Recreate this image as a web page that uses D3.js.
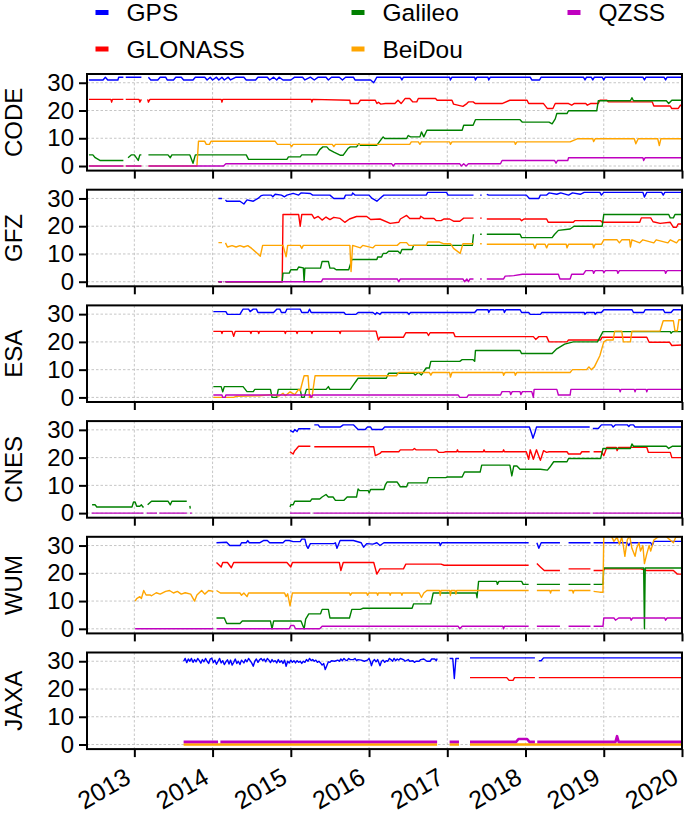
<!DOCTYPE html>
<html>
<head>
<meta charset="utf-8">
<script src="https://cdn.jsdelivr.net/npm/d3@7"></script>
<style>
  body { margin: 0; background: #fff; }
  text { font-family: "Liberation Sans", Arial, sans-serif; }
</style>
</head>
<body>
<div id="chart"></div>
<script>
// analysis centres (one panel each) and GNSS systems
const centers = ["CODE", "GFZ", "ESA", "CNES", "WUM", "JAXA"];
const systems = ["GPS", "GLONASS", "Galileo", "BeiDou", "QZSS"];
const sysColors = ["#0000ff", "#ff0000", "#008000", "#ffa500", "#bf00bf"];
const yearTicks = [2013, 2014, 2015, 2016, 2017, 2018, 2019, 2020];
const yTicks = [0, 10, 20, 30];

// number of satellites, [decimal year, count]; null = no data
const codeGps = [[2012.42,31],[2012.60,31],[2012.63,32],[2012.66,31],[2012.79,31],[2012.80,32],[2012.86,32],[2012.865,null],[2012.89,32],[2013.09,32],[2013.095,null],[2013.18,32],[2013.21,31],[2013.30,31],[2013.33,32],[2013.40,32],[2013.42,31],[2013.50,31],[2013.53,32],[2013.60,32],[2013.63,31],[2013.75,31],[2013.78,32],[2013.90,32],[2013.93,31],[2013.97,32],[2014.00,31],[2014.05,32],[2014.08,31],[2014.12,32],[2014.15,31],[2014.20,32],[2014.23,31],[2014.30,32],[2014.40,32],[2014.43,31],[2014.55,31],[2014.58,32],[2014.70,32],[2014.73,31],[2014.78,32],[2014.82,31],[2014.85,32],[2014.90,31],[2015.00,31],[2015.05,32],[2015.15,32],[2015.18,31],[2015.25,32],[2015.30,31],[2015.35,32],[2015.45,32],[2015.48,31],[2015.52,32],[2015.62,32],[2015.66,31],[2015.70,32],[2015.80,32],[2015.82,31],[2016.02,31],[2016.06,30],[2016.10,32],[2016.40,32],[2016.42,31],[2016.44,32],[2017.03,32],[2017.04,31],[2017.06,32],[2017.35,32],[2017.36,31],[2017.38,32],[2017.52,32],[2017.53,31],[2017.55,32],[2018.06,32],[2018.08,31],[2018.18,31],[2018.20,32],[2018.74,32],[2018.76,31],[2018.78,32],[2018.84,32],[2018.86,31],[2018.88,32],[2018.98,32],[2019.0,31],[2019.02,32],[2019.50,32],[2019.52,31],[2019.54,32],[2019.77,32],[2019.79,31],[2019.81,32],[2020.0,32]];
const codeGlo = [[2012.42,24],[2012.70,24],[2012.71,23],[2012.72,24],[2012.86,24],[2012.865,null],[2012.89,24],[2013.06,24],[2013.07,23],[2013.09,24],[2013.095,null],[2013.17,24],[2013.18,23],[2013.2,24],[2014.11,24],[2014.12,23],[2014.13,24],[2015.26,24],[2015.27,23],[2015.28,24],[2015.755,23.7],[2015.76,22.5],[2015.86,22.5],[2015.89,23.7],[2016.08,23.7],[2016.10,22.5],[2016.12,23],[2016.15,22.3],[2016.21,22.5],[2016.33,22.5],[2016.37,23.7],[2016.41,22.5],[2016.46,24.3],[2016.52,24.3],[2016.56,23.1],[2016.61,23.1],[2016.63,24.3],[2016.85,24.3],[2016.87,23.7],[2017.06,23.7],[2017.08,22.3],[2017.2,21.5],[2017.25,22.5],[2017.27,23.1],[2017.33,23.1],[2017.36,22.5],[2017.7,22.5],[2017.8,23.7],[2018.02,23.7],[2018.04,22.5],[2018.23,22.5],[2018.28,20.7],[2018.35,20.7],[2018.38,22.5],[2018.55,22.5],[2018.59,21.9],[2018.62,22.5],[2018.77,22.5],[2018.79,21.9],[2018.83,22.5],[2018.93,22.5],[2018.95,23.7],[2019.04,23.7],[2019.06,23.1],[2019.62,23.1],[2019.64,21.6],[2019.85,21.6],[2019.87,20.7],[2019.95,20.7],[2019.98,21.9],[2020.0,21.9]];
const codeGal = [[2012.42,4],[2012.47,4],[2012.50,3],[2012.56,2],[2012.86,2],[2012.865,null],[2012.92,3],[2012.96,4],[2013.00,4],[2013.05,2],[2013.07,4],[2013.09,4],[2013.095,null],[2013.18,4],[2013.43,4],[2013.46,3],[2013.48,4],[2013.71,4],[2013.75,1],[2013.78,4],[2014.43,4],[2014.46,2.4],[2014.95,2.4],[2014.97,3.3],[2015.12,3.3],[2015.14,4],[2015.33,4],[2015.37,5.9],[2015.41,6.9],[2015.46,6.9],[2015.49,5.9],[2015.55,5],[2015.63,3.9],[2015.67,3.9],[2015.73,6.3],[2015.76,6.9],[2015.84,6.9],[2015.87,8],[2015.89,7.5],[2016.10,7.5],[2016.18,10.5],[2016.2,9.9],[2016.48,9.9],[2016.50,11],[2016.53,10.5],[2016.65,10.5],[2016.67,12.3],[2016.7,10.5],[2016.74,12.9],[2017.19,12.9],[2017.21,14.7],[2017.33,14.7],[2017.36,16.7],[2017.93,16.7],[2017.96,15.8],[2018.30,15.8],[2018.34,15.2],[2018.38,17],[2018.40,18.9],[2018.53,18.9],[2018.55,19.9],[2018.91,19.9],[2018.93,23.5],[2019.34,23.5],[2019.36,24.6],[2019.38,23.5],[2019.80,23.5],[2019.83,22.5],[2019.87,23.7],[2020.0,23.7]];
const codeBds = [[2012.42,0],[2012.86,0],[2012.865,null],[2012.89,0],[2013.09,0],[2013.095,null],[2013.18,0],[2013.80,0],[2013.82,8.9],[2013.90,8.9],[2013.92,7.8],[2013.96,7.8],[2013.98,8.9],[2014.80,8.9],[2014.83,7.8],[2014.99,7.8],[2015.01,7],[2015.03,7.8],[2015.53,7.8],[2015.55,7],[2015.57,7.8],[2016.52,7.8],[2016.54,8.7],[2016.63,8.7],[2016.65,7.8],[2016.67,8.7],[2017.03,8.7],[2017.04,7.8],[2017.06,8.7],[2017.86,8.7],[2017.87,7.8],[2017.89,8.7],[2018.57,8.7],[2018.66,9.8],[2018.86,9.8],[2018.87,8.8],[2018.89,9.8],[2019.39,9.8],[2019.41,8],[2019.44,9.8],[2019.69,9.8],[2019.71,7.4],[2019.73,9.8],[2020.0,9.8]];
const codeQzs = [[2012.42,0],[2012.86,0],[2012.865,null],[2012.89,0],[2013.09,0],[2013.095,null],[2013.18,0],[2014.14,0],[2014.17,0.8],[2016.29,0.8],[2016.31,0],[2016.33,0.8],[2017.16,0.8],[2017.18,0],[2017.21,0.8],[2017.24,0],[2017.27,0.8],[2017.68,0.8],[2017.70,2],[2018.37,2],[2018.39,1],[2018.41,2],[2018.54,2],[2018.55,3],[2019.50,3],[2019.51,2],[2019.53,3],[2020.0,3]];

const gfzGps = [[2014.075,30],[2014.12,30],[2014.125,null],[2014.165,29.5],[2014.18,29],[2014.35,29],[2014.40,28],[2014.44,29.5],[2014.52,29],[2014.58,30],[2014.62,31],[2014.65,31.2],[2014.75,31.2],[2014.77,30.6],[2014.80,31.5],[2014.88,31.2],[2014.92,30.6],[2014.95,31.2],[2015.03,31.8],[2015.10,31.2],[2015.13,32],[2015.25,31.8],[2015.28,31.2],[2015.50,31.2],[2015.55,30],[2015.68,30],[2015.70,31.2],[2015.78,31.2],[2015.79,32],[2015.82,31.2],[2016.00,31.2],[2016.04,30],[2016.10,29],[2016.16,30.5],[2016.19,31.2],[2016.73,31.2],[2016.75,32.2],[2016.99,32.2],[2017.01,31.2],[2017.335,31.2],[2017.34,null],[2017.42,31.2],[2017.44,31.2],[2017.45,null],[2017.505,31.5],[2017.53,31.2],[2018.01,31.2],[2018.05,30],[2018.17,30],[2018.19,31.2],[2018.27,31.2],[2018.30,32],[2018.40,31.5],[2018.45,32],[2018.55,31.2],[2018.6,32],[2018.70,31.5],[2018.75,32.2],[2018.95,32.2],[2018.97,31.2],[2019.0,32.2],[2019.50,32.2],[2019.52,30.5],[2019.55,32.2],[2019.74,32.2],[2019.76,31.2],[2019.78,32.2],[2020.0,32.2]];
const gfzGlo = [[2014.075,0],[2014.12,0],[2014.125,null],[2014.165,0],[2014.89,0],[2014.90,24.2],[2015.10,24.2],[2015.12,20],[2015.14,24.2],[2015.27,24.2],[2015.30,22.8],[2015.35,23.5],[2015.40,22.2],[2015.45,23.3],[2015.50,22.4],[2015.55,23.2],[2015.63,22.8],[2015.69,21.4],[2015.75,22.6],[2015.84,23.5],[2015.97,23.5],[2016.02,22.4],[2016.14,22.6],[2016.27,21],[2016.38,21.4],[2016.40,22.6],[2016.48,23.9],[2016.52,22.8],[2016.65,22.8],[2016.66,23.6],[2016.70,22.8],[2016.83,22.8],[2016.86,22],[2016.92,22],[2016.96,22.6],[2017.03,22.6],[2017.08,21.8],[2017.16,21.8],[2017.21,22.9],[2017.335,22.9],[2017.34,null],[2017.42,22.9],[2017.44,22.9],[2017.45,null],[2017.505,22.6],[2017.93,22.6],[2017.95,22],[2017.98,22.6],[2018.27,22.6],[2018.29,21.4],[2018.61,21.4],[2018.63,22],[2018.96,22],[2018.98,21.4],[2019.46,21.4],[2019.48,23],[2019.60,23],[2019.63,21.6],[2019.72,21],[2019.85,21.4],[2019.89,19.6],[2019.93,19.6],[2019.95,20.8],[2020.0,20.8]];
const gfzGal = [[2014.075,0],[2014.12,0],[2014.125,null],[2014.165,0],[2014.89,0],[2014.90,3.1],[2014.98,3.1],[2015.0,4.3],[2015.08,4.3],[2015.10,5.3],[2015.16,5],[2015.17,0],[2015.18,4.9],[2015.38,4.9],[2015.40,7.3],[2015.48,7.3],[2015.50,4.9],[2015.55,4.9],[2015.58,4.3],[2015.74,4.3],[2015.78,8],[2016.10,8],[2016.11,8.9],[2016.16,8.9],[2016.18,10.2],[2016.22,10.2],[2016.25,11],[2016.37,11],[2016.40,10.2],[2016.42,11.6],[2016.55,11.6],[2016.57,13.1],[2017.32,13.1],[2017.335,17.1],[2017.34,null],[2017.42,17.1],[2017.44,17.1],[2017.45,null],[2017.505,17.1],[2017.93,17.1],[2017.95,15.9],[2018.34,15.9],[2018.37,17],[2018.42,18.5],[2018.57,19],[2018.62,20],[2018.98,20],[2019.0,24.2],[2019.83,24.2],[2019.85,23],[2019.89,23],[2019.91,24.2],[2020.0,24.2]];
const gfzBds = [[2014.075,14.1],[2014.12,14.1],[2014.125,null],[2014.165,14],[2014.19,12.5],[2014.25,13],[2014.30,12.5],[2014.35,13],[2014.40,12.5],[2014.45,13],[2014.50,12],[2014.58,10],[2014.61,9.2],[2014.64,13.1],[2014.90,13.1],[2014.94,9],[2014.96,13.1],[2015.12,13.1],[2015.14,12],[2015.16,13.1],[2015.755,13.1],[2015.77,3.7],[2015.79,13.1],[2015.89,12.2],[2015.92,13.1],[2016.05,12.2],[2016.08,13.1],[2016.36,13.1],[2016.40,14.1],[2016.48,14.1],[2016.51,13.1],[2016.73,13.1],[2016.75,14.3],[2016.90,14.3],[2016.95,13.7],[2017.04,13.7],[2017.08,12],[2017.165,10.2],[2017.20,13.7],[2017.335,13.7],[2017.34,null],[2017.42,13.7],[2017.44,13.7],[2017.45,null],[2017.505,13.5],[2018.10,13.5],[2018.12,12],[2018.14,13.5],[2018.25,13.5],[2018.27,12.2],[2018.29,13.5],[2018.52,13.5],[2018.53,12.2],[2018.55,13.5],[2018.86,13.5],[2018.87,12.2],[2018.89,13.5],[2018.97,13.5],[2019.0,15.1],[2019.17,15.1],[2019.20,14],[2019.23,15.1],[2019.33,15.1],[2019.34,12.5],[2019.36,15.1],[2019.46,14],[2019.50,15.1],[2019.64,14],[2019.67,15.1],[2019.82,14],[2019.85,15.1],[2019.93,14],[2019.96,15.1],[2020.0,15.1]];
const gfzQzs = [[2014.075,0],[2014.12,0],[2014.125,null],[2014.14,0],[2014.15,0],[2014.155,null],[2014.165,0],[2015.39,0],[2015.41,1],[2016.36,1],[2016.38,0],[2016.40,1],[2017.20,1],[2017.22,0],[2017.25,1],[2017.27,0],[2017.29,1],[2017.335,1],[2017.34,null],[2017.42,1],[2017.44,1],[2017.45,null],[2017.505,1],[2017.72,1],[2017.74,2],[2017.85,2.2],[2017.96,2.7],[2018.42,2.7],[2018.44,1],[2018.57,1],[2018.59,2.7],[2018.74,2.7],[2018.77,4],[2018.86,4],[2018.87,3],[2018.89,4],[2018.99,4],[2019.0,3.2],[2019.02,4],[2019.17,4],[2019.18,3],[2019.20,4],[2019.78,4],[2019.79,3],[2019.81,4],[2020.0,4]];

const esaGps = [[2014.01,30.9],[2014.17,30.9],[2014.19,29.9],[2014.35,29.9],[2014.37,30.9],[2014.39,31.8],[2014.46,31.8],[2014.48,30.9],[2014.52,31.8],[2014.56,31.8],[2014.58,30.6],[2014.78,30.6],[2014.82,31.8],[2014.86,31.8],[2014.88,30.6],[2014.93,30.6],[2014.95,31.8],[2015.12,31.8],[2015.14,30.6],[2015.22,30.6],[2015.24,31.8],[2015.26,30.6],[2015.68,30.6],[2015.70,29.9],[2015.83,29.9],[2015.86,30.6],[2016.05,30.6],[2016.08,29.9],[2016.10,30.6],[2016.14,29.9],[2016.16,30.6],[2016.49,30.6],[2016.51,29.9],[2016.53,30.6],[2017.35,30.6],[2017.38,31.6],[2017.52,31.6],[2017.53,30.6],[2017.55,31.6],[2017.72,31.6],[2017.73,30.6],[2017.75,31.6],[2017.93,31.6],[2017.95,30.6],[2018.04,30.6],[2018.06,29.9],[2018.19,29.9],[2018.21,30.6],[2018.75,30.6],[2018.76,29.9],[2018.78,30.6],[2018.88,30.6],[2018.89,29.9],[2018.91,30.6],[2018.97,30.6],[2019.0,31.6],[2019.36,31.6],[2019.38,30.6],[2019.51,30.6],[2019.53,31.6],[2019.76,31.6],[2019.78,30.6],[2019.86,30.6],[2019.89,31.6],[2020.0,31.6]];
const esaGlo = [[2014.01,23.8],[2014.11,23.8],[2014.12,23],[2014.13,23.8],[2014.25,23.8],[2014.27,22],[2014.29,23.8],[2014.48,23.8],[2014.49,23],[2014.50,23.8],[2014.58,23.8],[2014.59,23],[2014.60,23.8],[2014.92,23.8],[2014.93,23],[2014.94,23.8],[2015.07,23.8],[2015.08,23],[2015.09,23.8],[2015.26,23.8],[2015.27,23],[2015.28,23.8],[2015.62,23.8],[2015.63,23],[2015.64,23.9],[2016.09,23.9],[2016.12,20.7],[2016.14,21.7],[2016.44,21.7],[2016.47,23.3],[2016.74,23.3],[2016.76,22.3],[2016.78,23.3],[2017.08,23.3],[2017.10,21.9],[2018.10,21.9],[2018.13,20.9],[2018.17,21.9],[2018.27,21.9],[2018.30,20],[2018.53,20],[2018.55,20.7],[2018.96,20.7],[2018.98,21.7],[2019.55,21.7],[2019.58,19.9],[2019.84,19.9],[2019.87,18.7],[2020.0,18.9]];
const esaGal = [[2014.01,3.9],[2014.11,3.9],[2014.13,2],[2014.15,3.9],[2014.39,3.9],[2014.44,2.1],[2014.52,2.1],[2014.54,2.9],[2014.74,2.9],[2014.76,0],[2014.82,0],[2014.84,2.9],[2015.12,2.9],[2015.14,0],[2015.17,0],[2015.20,2.9],[2015.45,2.9],[2015.48,3.9],[2015.50,2.9],[2015.76,2.9],[2015.80,4.5],[2015.86,6.9],[2016.22,6.9],[2016.25,8.7],[2016.57,8.7],[2016.59,8.1],[2016.63,9],[2016.67,8.1],[2016.73,10.6],[2016.77,10.6],[2016.79,13],[2017.16,13],[2017.19,13.6],[2017.33,13.6],[2017.35,13],[2017.36,16.9],[2017.93,16.9],[2017.95,15.8],[2018.34,15.8],[2018.40,17.5],[2018.50,19.2],[2018.61,20],[2018.92,20],[2018.99,23.7],[2019.85,23.7],[2019.86,23.1],[2019.88,23.7],[2020.0,23.7]];
const esaBds = [[2014.01,0],[2014.27,0],[2014.30,0.4],[2014.60,0.6],[2014.75,1],[2014.85,0.5],[2014.90,1.5],[2014.93,0.6],[2014.99,2],[2015.05,1],[2015.10,2.9],[2015.12,2.4],[2015.17,7.8],[2015.22,7.8],[2015.24,0],[2015.27,0],[2015.31,7.8],[2016.35,7.8],[2016.38,9],[2016.77,9],[2016.79,8],[2016.81,9],[2017.03,9],[2017.04,7.3],[2017.06,9],[2017.71,9],[2017.72,8],[2017.74,9],[2017.86,9],[2017.87,8],[2017.89,9],[2018.57,9],[2018.60,10],[2018.78,10],[2018.81,11],[2018.84,10],[2018.88,11],[2018.95,15],[2019.0,20],[2019.04,20.7],[2019.12,20.7],[2019.14,23.9],[2019.23,23.9],[2019.25,20],[2019.34,20],[2019.36,23.9],[2019.72,23.9],[2019.76,27.6],[2019.89,27.6],[2019.91,24],[2019.94,24],[2019.96,28],[2020.0,28]];
const esaQzs = [[2014.01,0.85],[2014.12,0.85],[2014.13,0],[2014.16,0],[2014.17,0.85],[2015.25,0.85],[2015.26,0],[2015.28,0.85],[2017.14,0.85],[2017.16,0],[2017.25,0],[2017.27,0.85],[2017.68,0.85],[2017.70,2.1],[2017.80,2.1],[2017.81,1],[2017.83,2.1],[2017.93,2.1],[2017.94,1],[2017.96,2.1],[2018.08,2.1],[2018.10,0],[2018.11,2.9],[2018.40,2.9],[2018.42,0.85],[2018.57,0.85],[2018.58,2.9],[2019.20,2.9],[2019.21,2],[2019.22,2.9],[2019.39,2.9],[2019.40,2],[2019.41,2.9],[2019.54,2.9],[2019.55,2],[2019.56,2.9],[2020.0,2.9]];

const cnesGps = [[2014.99,29.8],[2015.03,29.2],[2015.05,30.1],[2015.08,29.4],[2015.10,30.4],[2015.25,30.4],[2015.26,null],[2015.30,31.8],[2015.35,31.8],[2015.37,31],[2015.63,31],[2015.67,31.8],[2015.80,31.8],[2015.86,30.1],[2015.95,30.1],[2015.98,31],[2016.02,31],[2016.04,30.1],[2016.17,30.1],[2016.20,31],[2018.05,31],[2018.08,28.5],[2018.095,27],[2018.12,29],[2018.14,31],[2018.82,31],[2018.825,null],[2018.86,30.5],[2018.93,30.5],[2018.97,31.8],[2019.10,31.8],[2019.12,31],[2019.15,31.8],[2019.30,31.8],[2019.32,31.2],[2019.34,31.8],[2019.38,31.8],[2019.40,31],[2020.0,31]];
const cnesGlo = [[2014.99,22.1],[2015.03,21.3],[2015.05,22.5],[2015.07,23.1],[2015.10,24.1],[2015.25,24.1],[2015.26,null],[2015.30,23.9],[2016.06,23.9],[2016.08,20.7],[2016.14,21.5],[2016.16,22.1],[2016.38,22.1],[2016.40,22.8],[2016.56,22.8],[2016.58,23.3],[2016.60,22.8],[2016.86,22.8],[2016.89,21.9],[2016.95,21.9],[2016.98,22.1],[2017.12,22.1],[2017.13,22.8],[2017.14,22.1],[2017.46,22.1],[2017.47,22.8],[2017.48,22.1],[2017.71,22.1],[2017.72,22.8],[2017.73,22.1],[2018.01,22.1],[2018.04,19.4],[2018.06,22.8],[2018.10,19.4],[2018.14,22.8],[2018.19,19],[2018.23,22.5],[2018.27,21.9],[2018.30,22.1],[2018.53,22.1],[2018.55,21.3],[2018.70,21.3],[2018.72,22.1],[2018.82,22.1],[2018.825,null],[2018.87,22.1],[2018.97,22.1],[2019.0,20.7],[2019.04,23.7],[2019.16,23.7],[2019.17,22.5],[2019.19,23.7],[2019.55,23.7],[2019.57,21.9],[2019.85,21.9],[2019.87,20],[2020.0,20]];
const cnesGal = [[2012.46,3],[2012.50,3],[2012.52,2.2],[2012.97,2.2],[2012.99,4],[2013.01,4],[2013.03,2.5],[2013.07,2.5],[2013.09,3],[2013.11,2.2],[2013.12,2.2],[2013.125,null],[2013.17,3],[2013.22,4.3],[2013.43,4.3],[2013.46,3],[2013.48,4.3],[2013.67,4.3],[2013.675,null],[2013.71,2.6],[2013.715,1.6],[2013.72,null],[2014.99,2.2],[2015.0,3],[2015.03,3],[2015.05,4.3],[2015.25,4.3],[2015.27,5.1],[2015.37,5.1],[2015.40,5.8],[2015.45,6.7],[2015.48,5.8],[2015.54,5.8],[2015.57,4.6],[2015.68,4.6],[2015.72,5.8],[2015.84,5.8],[2015.86,8.7],[2015.88,8.1],[2015.99,8.1],[2016.0,7.3],[2016.02,8.5],[2016.19,8.5],[2016.21,10.3],[2016.23,11.2],[2016.36,11.2],[2016.40,9.5],[2016.48,9.5],[2016.50,10.9],[2016.74,10.9],[2016.76,12.8],[2016.98,12.8],[2017.0,13],[2017.19,13],[2017.22,14.8],[2017.42,14.8],[2017.44,17.3],[2017.80,17.3],[2017.825,13.4],[2017.85,17],[2017.89,17],[2017.93,15.8],[2018.19,15.8],[2018.28,15.5],[2018.31,16.5],[2018.36,18.5],[2018.53,18.5],[2018.55,19.7],[2018.96,19.7],[2018.99,23.3],[2019.34,23.3],[2019.36,24.9],[2019.38,24.1],[2019.80,24.1],[2019.83,23.3],[2019.88,24.1],[2020.0,24.1]];
const cnesBds = [];
const cnesQzs = [[2012.455,0],[2013.116,0],[2013.12,null],[2013.159,0],[2013.29,0],[2013.30,null],[2013.32,0],[2013.67,0],[2013.68,null],[2013.71,0],[2013.735,0],[2013.74,null],[2014.99,0],[2015.25,0],[2015.26,null],[2015.29,0],[2018.83,0],[2018.835,null],[2018.86,0],[2020.0,0]];

const wumGps = [[2014.05,31],[2014.18,31.2],[2014.22,30],[2014.35,30],[2014.37,31],[2014.43,31],[2014.45,31.8],[2014.47,31],[2014.60,31],[2014.65,31.8],[2014.70,31.8],[2014.73,31],[2014.90,31],[2014.93,31.8],[2014.98,31.8],[2015.03,31.4],[2015.12,31.4],[2015.14,32.3],[2015.18,32.3],[2015.20,30],[2015.22,29],[2015.25,30.7],[2015.55,30.7],[2015.57,31],[2015.59,29],[2015.63,31.8],[2015.80,31.8],[2015.90,31],[2015.93,29.4],[2015.97,30.7],[2016.05,30.5],[2016.10,31],[2016.14,30],[2016.19,31],[2016.90,31],[2016.91,30],[2016.93,31],[2018.04,31],[2018.05,null],[2018.145,31],[2018.17,29],[2018.20,31],[2018.44,31],[2018.45,null],[2018.55,31],[2018.83,31],[2018.835,null],[2018.87,31],[2019.30,31],[2019.32,30],[2019.34,31],[2019.60,31],[2019.62,30],[2019.64,31.5],[2020.0,31.5]];
const wumGlo = [[2014.05,23.9],[2014.11,22.3],[2014.13,23.9],[2014.19,23.9],[2014.24,22],[2014.27,23.9],[2014.95,23.9],[2015.0,22.3],[2015.02,23.9],[2015.62,23.9],[2015.64,21],[2015.67,23.9],[2016.06,23.9],[2016.10,19.7],[2016.14,21.6],[2016.44,21.6],[2016.47,23.3],[2016.92,23.3],[2016.96,22.9],[2018.04,22.9],[2018.05,null],[2018.145,23.5],[2018.19,22.3],[2018.24,21],[2018.44,21],[2018.45,null],[2018.55,21.6],[2018.83,21.6],[2018.835,null],[2018.87,21],[2018.99,21],[2019.01,21.6],[2019.47,21.6],[2019.55,21],[2019.89,21],[2019.94,19.7],[2020.0,19.7]];
const wumGal = [[2014.05,3.9],[2014.15,3.9],[2014.18,1.9],[2014.35,1.9],[2014.38,2.8],[2014.74,2.8],[2014.76,0],[2014.78,2.8],[2015.13,2.8],[2015.17,0],[2015.19,3.5],[2015.23,5.4],[2015.38,5.4],[2015.40,7],[2015.48,7],[2015.50,3.9],[2015.75,3.9],[2015.78,7],[2015.89,7],[2015.92,7.4],[2016.55,7.4],[2016.57,9],[2016.79,9],[2016.82,12.9],[2017.37,12.9],[2017.38,11.2],[2017.40,17.1],[2017.63,17.1],[2017.64,16],[2017.66,17.1],[2017.95,17.1],[2017.97,16],[2018.04,16],[2018.05,null],[2018.145,16],[2018.44,16],[2018.45,null],[2018.55,16],[2018.83,16],[2018.835,null],[2018.87,16],[2018.99,16],[2019.0,21.9],[2019.51,21.9],[2019.52,0],[2019.53,21.9],[2020.0,21.9]];
const wumBds = [[2013.01,10],[2013.03,10.9],[2013.07,11.6],[2013.09,10.9],[2013.12,13.8],[2013.15,12.2],[2013.20,12.2],[2013.22,11.9],[2013.28,13],[2013.33,12.5],[2013.40,13.5],[2013.45,13.8],[2013.50,12.9],[2013.55,13.5],[2013.60,12.5],[2013.65,13],[2013.72,12.5],[2013.75,11],[2013.77,10],[2013.80,12.2],[2013.86,13.8],[2013.90,12.5],[2013.95,13.8],[2014.01,13.5],[2014.02,null],[2014.05,13.8],[2014.10,12.9],[2014.35,12.9],[2014.37,12.1],[2014.40,12.9],[2014.44,11.6],[2014.46,12.9],[2014.92,12.9],[2014.94,11.6],[2014.96,12.6],[2014.99,8.3],[2015.02,12.9],[2015.75,12.9],[2015.76,12.1],[2015.78,12.9],[2015.97,12.9],[2015.98,12.1],[2016.0,12.9],[2016.10,12.9],[2016.11,12.1],[2016.12,12.9],[2016.26,12.9],[2016.27,12.1],[2016.28,12.9],[2016.41,12.9],[2016.42,12.1],[2016.43,12.9],[2016.64,12.9],[2016.67,11.3],[2016.70,12.9],[2016.74,13.8],[2016.90,13.8],[2016.91,12],[2016.92,13.8],[2017.03,13.8],[2017.04,12],[2017.05,13.8],[2017.10,13.8],[2017.11,12.5],[2017.12,13.8],[2018.04,13.8],[2018.05,null],[2018.145,13.8],[2018.31,13.8],[2018.32,12.9],[2018.33,13.8],[2018.44,13.8],[2018.45,null],[2018.55,13.8],[2018.60,13.8],[2018.61,12.9],[2018.62,13.8],[2018.83,13.8],[2018.835,null],[2018.87,13.5],[2018.95,13.2],[2018.99,13.2],[2019.0,33.6],[2019.10,33.2],[2019.13,31.5],[2019.17,33],[2019.20,30.5],[2019.23,33],[2019.25,30],[2019.27,26.1],[2019.30,32],[2019.33,33.6],[2019.36,29],[2019.40,26.1],[2019.42,29],[2019.45,31],[2019.47,28],[2019.50,30],[2019.52,23.5],[2019.55,27],[2019.58,30],[2019.60,28],[2019.64,32],[2019.70,33.2],[2019.80,33.2],[2019.89,31],[2019.92,33],[2020.0,33.2]];
const wumQzs = [[2013.01,0],[2014.01,0],[2014.02,null],[2014.05,0],[2014.98,0],[2015.0,1.2],[2015.04,1.2],[2015.06,0],[2015.37,0],[2015.40,0.9],[2017.14,0.9],[2017.16,0],[2017.19,0.9],[2017.71,0.9],[2017.72,0],[2017.73,0.9],[2018.04,0.9],[2018.05,null],[2018.145,0.9],[2018.44,0.9],[2018.45,null],[2018.55,0.9],[2018.83,0.9],[2018.835,null],[2018.87,0.9],[2018.99,0.9],[2019.0,3.9],[2019.13,3.9],[2019.15,3.1],[2019.19,3.9],[2019.34,3.9],[2019.35,3.1],[2019.37,3.9],[2019.78,3.9],[2019.79,3.1],[2019.81,3.9],[2020.0,3.9]];

const jaxaGps = [[2013.63,30],[2013.65,31],[2013.67,29.5],[2013.69,30.8],[2013.71,30],[2013.73,31],[2013.75,29.6],[2013.77,30.6],[2013.79,29.8],[2013.81,31],[2013.83,30.2],[2013.85,29.3],[2013.87,30.6],[2013.89,29.8],[2013.91,31],[2013.93,30],[2013.95,29.2],[2013.97,30.8],[2013.99,31.1],[2014.01,29.5],[2014.03,30.4],[2014.05,28.9],[2014.07,30],[2014.09,31],[2014.11,29.4],[2014.13,30.2],[2014.15,28.8],[2014.17,29.8],[2014.19,30.5],[2014.21,29],[2014.23,30.4],[2014.25,28.6],[2014.27,29.6],[2014.29,30.8],[2014.31,29.2],[2014.33,30],[2014.35,28.8],[2014.37,30.4],[2014.40,29.4],[2014.42,30.6],[2014.44,29.8],[2014.46,31],[2014.48,30.2],[2014.50,29.4],[2014.52,28.2],[2014.54,30],[2014.56,30.8],[2014.58,29.6],[2014.60,30.5],[2014.62,31],[2014.64,30.2],[2014.66,30.8],[2014.68,29.8],[2014.70,31],[2014.72,30.4],[2014.74,29.5],[2014.76,30.6],[2014.78,29.8],[2014.80,30.2],[2014.82,29.4],[2014.84,30.6],[2014.86,29.6],[2014.88,30.2],[2014.90,29.2],[2014.92,30.4],[2014.94,28.2],[2014.96,30],[2014.98,29.4],[2015.00,30.4],[2015.02,29.6],[2015.04,30.2],[2015.06,29.4],[2015.08,30.2],[2015.10,29.6],[2015.12,30],[2015.14,29.2],[2015.16,30],[2015.18,29.6],[2015.20,30.6],[2015.22,30],[2015.24,31],[2015.26,30.2],[2015.28,30.6],[2015.30,30],[2015.32,30.4],[2015.34,29.6],[2015.36,30],[2015.38,29.4],[2015.40,28.6],[2015.42,29.2],[2015.44,27],[2015.46,28.4],[2015.48,29.8],[2015.50,29.6],[2015.52,30.2],[2015.56,30],[2015.60,30.4],[2015.62,30],[2015.64,30.8],[2015.66,30.2],[2015.68,31],[2015.70,30.4],[2015.72,30.2],[2015.74,31],[2015.76,30.6],[2015.80,30.6],[2015.82,31],[2015.84,30.2],[2015.86,30.6],[2015.90,30.4],[2015.94,30],[2015.98,30.4],[2016.00,31],[2016.02,29.6],[2016.03,28.4],[2016.05,30],[2016.07,30.6],[2016.09,29.8],[2016.11,30.6],[2016.14,28.4],[2016.16,30],[2016.18,30.4],[2016.20,29.6],[2016.22,30.2],[2016.24,30],[2016.26,31],[2016.28,30.6],[2016.30,30],[2016.32,31],[2016.34,30.2],[2016.36,30.8],[2016.38,30.4],[2016.40,31],[2016.44,30.6],[2016.46,30],[2016.50,30.6],[2016.52,30],[2016.56,30.2],[2016.58,29.6],[2016.60,30],[2016.64,30],[2016.66,30.6],[2016.70,30.8],[2016.74,30],[2016.78,30],[2016.80,30.8],[2016.84,30.8],[2016.86,30.2],[2016.87,31],[2016.875,null],[2017.03,31],[2017.07,31],[2017.09,23.8],[2017.11,31],[2017.15,31],[2017.155,null],[2017.29,31.2],[2018.12,31.2],[2018.125,null],[2018.17,30.2],[2018.20,30.2],[2018.23,31.2],[2020.0,31.2]];
const jaxaGlo = [[2017.29,24.1],[2017.76,24.1],[2017.79,23.1],[2017.84,23.1],[2017.86,24.1],[2018.12,24.1],[2018.125,null],[2018.17,24.1],[2020.0,24.1]];
const jaxaGal = [];
const jaxaBds = [[2013.63,0],[2016.87,0],[2016.875,null],[2017.03,0],[2017.15,0],[2017.155,null],[2017.29,0],[2020.0,0]];
const jaxaQzs = [[2013.63,0.95],[2014.07,0.95],[2014.075,null],[2014.10,0.95],[2016.87,0.95],[2016.875,null],[2017.03,0.95],[2017.15,0.95],[2017.155,null],[2017.29,0.95],[2017.88,0.95],[2017.91,2],[2018.02,2],[2018.05,0.95],[2018.12,0.95],[2018.125,null],[2018.15,0.95],[2019.15,0.95],[2019.17,3],[2019.19,0.95],[2020.0,0.95]];

const panels = [
    [codeGps, codeGlo, codeGal, codeBds, codeQzs],
    [gfzGps, gfzGlo, gfzGal, gfzBds, gfzQzs],
    [esaGps, esaGlo, esaGal, esaBds, esaQzs],
    [cnesGps, cnesGlo, cnesGal, cnesBds, cnesQzs],
    [wumGps, wumGlo, wumGal, wumBds, wumQzs],
    [jaxaGps, jaxaGlo, jaxaGal, jaxaBds, jaxaQzs]
];

//layout of the figure
const W = 685, H = 815;
const left = 87, right = 682, top0 = 74, panelH = 96.6, step = 115.7;
const font = "'Liberation Sans', Arial, sans-serif";

const svg = d3.select("#chart")
    .append("svg")
    .attr("width", W)
    .attr("height", H)
    .style("background", "#fff");

const x = d3.scaleLinear()
    .domain([2012.395, 2020])
    .range([left, right]);

// legend, 3 columns filled column by column
const legCols = [95.5, 351.5, 567.5];
const legRows = [12.5, 49];
systems.forEach(function (s, k) {
    const cx = legCols[Math.floor(k / 2)], cy = legRows[k % 2];
    svg.append("rect")
        .attr("x", cx).attr("y", cy - 2.5)
        .attr("width", 13).attr("height", 5)
        .attr("fill", sysColors[k]);
    svg.append("text")
        .attr("x", cx + 31).attr("y", cy)
        .attr("dy", "0.36em")
        .attr("font-size", 24.5)
        .text(s);
});

panels.forEach(function (series, i) {
    const top = top0 + i * step, bottom = top + panelH;
    const y = d3.scaleLinear()
        .domain([-1.65, 33.15])
        .range([bottom, top]);

    const g = svg.append("g");

    svg.append("clipPath").attr("id", "clip" + i)
        .append("rect")
        .attr("x", left).attr("y", top)
        .attr("width", right - left).attr("height", panelH);

    // dashed grid
    g.append("g").selectAll("line")
        .data(yearTicks)
        .join("line")
        .attr("x1", d => x(d)).attr("x2", d => x(d))
        .attr("y1", top).attr("y2", bottom)
        .attr("stroke", "#b8b8b8").attr("stroke-width", 0.8)
        .attr("stroke-dasharray", "2.5,2");
    g.append("g").selectAll("line")
        .data(yTicks)
        .join("line")
        .attr("x1", left).attr("x2", right)
        .attr("y1", d => y(d)).attr("y2", d => y(d))
        .attr("stroke", "#b8b8b8").attr("stroke-width", 0.8)
        .attr("stroke-dasharray", "2.5,2");

    // the lines (JAXA's flat QZSS/BeiDou lines are drawn heavier, as in the figure)
    const line = d3.line()
        .defined(d => d[1] !== null)
        .x(d => x(d[0]))
        .y(d => y(d[1]));
    series.forEach(function (s, k) {
        if (!s.length) return;
        g.append("path")
            .datum(s)
            .attr("clip-path", "url(#clip" + i + ")")
            .attr("fill", "none")
            .attr("stroke", sysColors[k])
            .attr("stroke-width", (i === 5 && k >= 3) ? 2.6 : 1.4)
            .attr("stroke-linejoin", "round")
            .attr("d", line);
    });

    // Y axis
    const ya = g.append("g")
        .attr("transform", "translate(" + left + ",0)")
        .call(d3.axisLeft(y).tickValues(yTicks).tickSize(8).tickPadding(5));
    ya.select(".domain").remove();
    ya.selectAll("line").attr("stroke", "#000").attr("stroke-width", 2);
    ya.selectAll("text").attr("font-size", 24).attr("font-family", font).attr("fill", "#000");

    // X axis ticks
    const xa = g.append("g")
        .attr("transform", "translate(0," + bottom + ")")
        .call(d3.axisBottom(x).tickValues(yearTicks).tickSize(8).tickFormat(""));
    xa.select(".domain").remove();
    xa.selectAll("line").attr("stroke", "#000").attr("stroke-width", 2);

    // frame
    g.append("rect")
        .attr("x", left).attr("y", top)
        .attr("width", right - left).attr("height", panelH)
        .attr("fill", "none").attr("stroke", "#000").attr("stroke-width", 2);

    g.append("text")
        .attr("transform", "translate(22," + (top + panelH / 2) + ") rotate(-90)")
        .attr("text-anchor", "middle")
        .attr("font-size", 24)
        .text(centers[i]);

    if (i === panels.length - 1) {
        g.selectAll(".yr")
            .data(yearTicks)
            .join("text")
            .attr("transform", d => "translate(" + (x(d) - 2) + "," + (bottom + 33) + ") rotate(-30)")
            .attr("text-anchor", "end")
            .attr("font-size", 25)
            .text(d => d);
    }
});
</script>
</body>
</html>
